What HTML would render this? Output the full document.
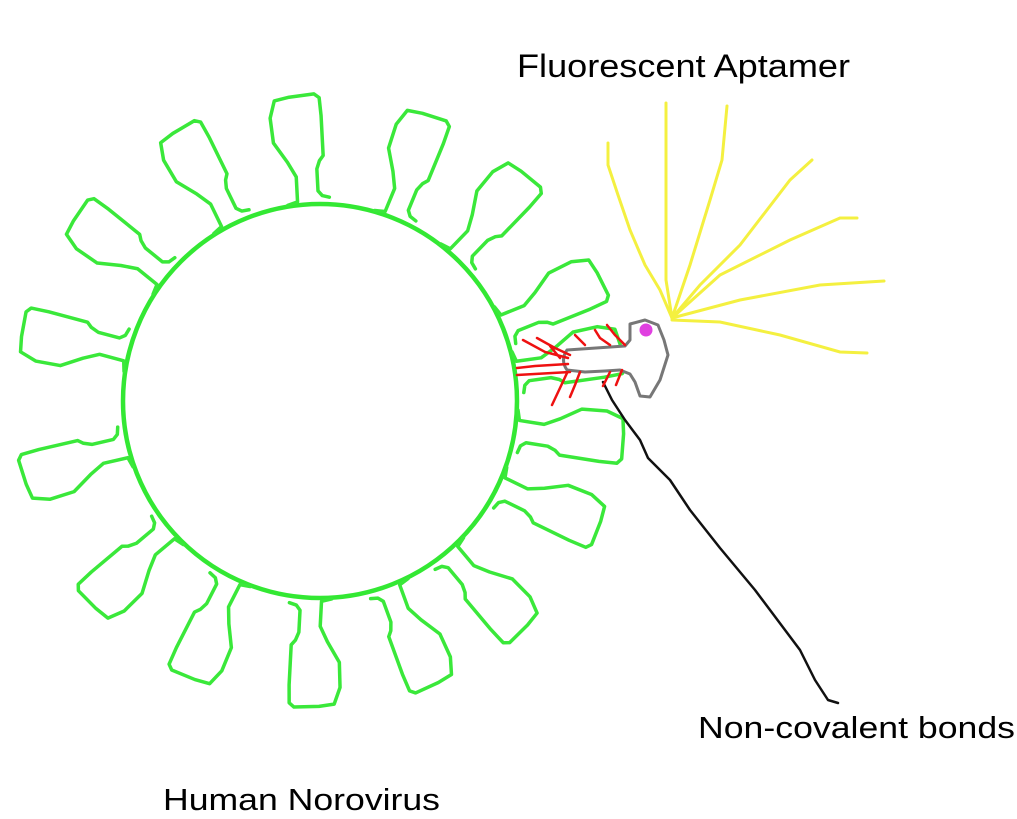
<!DOCTYPE html>
<html><head><meta charset="utf-8"><style>
html,body{margin:0;padding:0;background:#fff;}
svg{display:block;}
text{font-family:"Liberation Sans",Arial,sans-serif;fill:#000;}
</style></head><body>
<svg width="1017" height="819" viewBox="0 0 1017 819" xmlns="http://www.w3.org/2000/svg">
<defs>
<path id="sp" d="M-22,-197 L-12,-200 L-12,-225 L-20,-240 L-33,-260 L-35,-285 L-30,-302 L-15,-305 L10,-307 L15,-303 L16,-285 L16,-245 L12,-240 L9,-232 L9,-210 L13,-205 L20,-203" fill="none" stroke="#3ae83a" stroke-width="3.5" stroke-linejoin="round" stroke-linecap="round"/>
</defs>
<g transform="translate(320,401)">
<circle cx="0" cy="0" r="197" fill="none" stroke="#33e833" stroke-width="4.5"/>
<use href="#sp" transform="rotate(-3)"/>
<use href="#sp" transform="rotate(22.4)"/>
<use href="#sp" transform="rotate(44)"/>
<use href="#sp" transform="rotate(68)"/>
<use href="#sp" transform="rotate(82)"/>
<use href="#sp" transform="rotate(99)"/>
<use href="#sp" transform="rotate(116)"/>
<use href="#sp" transform="rotate(140)"/>
<use href="#sp" transform="rotate(160)"/>
<use href="#sp" transform="rotate(183)"/>
<use href="#sp" transform="rotate(207)"/>
<use href="#sp" transform="rotate(230)"/>
<use href="#sp" transform="rotate(257)"/>
<use href="#sp" transform="rotate(285)"/>
<use href="#sp" transform="rotate(309)"/>
<use href="#sp" transform="rotate(334)"/>
</g>
<!-- yellow rays -->
<g stroke="#f4f040" stroke-width="3" fill="none" stroke-linecap="round">
<path d="M672,318 L660,290 L645,265 L630,230 L618,195 L608,165 L608,143"/>
<path d="M672,318 L666,280 L666,103"/>
<path d="M672,318 L690,265 L710,200 L722,160 L727,106"/>
<path d="M672,318 L700,285 L740,245 L790,180 L812,160"/>
<path d="M672,318 L720,275 L790,240 L840,218 L857,218"/>
<path d="M672,318 L740,300 L820,285 L884,281"/>
<path d="M672,320 L720,322 L780,335 L840,352 L867,353"/>
</g>
<!-- black line -->
<path d="M603,382 L612,400 L625,420 L640,440 L648,458 L670,480 L690,510 L720,548 L755,590 L800,650 L815,680 L828,700 L838,703" fill="none" stroke="#111" stroke-width="2.5" stroke-linecap="round" stroke-linejoin="round"/>
<!-- gray aptamer -->
<path d="M567,350 L625,346 L630,340 L630,324 L645,320 L658,325 L664,340 L668,355 L660,380 L650,397 L640,396 L635,382 L630,374 L620,370 L605,371 L585,372 L567,370 Q560,360 567,350 Z" fill="#fff" stroke="#777" stroke-width="3" stroke-linejoin="round"/>
<circle cx="646" cy="330" r="6.5" fill="#e040e0"/>
<!-- red lines -->
<g stroke="#ee1111" stroke-width="2.5" fill="none" stroke-linecap="round">
<path d="M517,368 L535,366 L568,364"/>
<path d="M517,375 L570,372"/>
<path d="M523,340 L545,352 L568,358"/>
<path d="M537,338 L555,348 L570,355"/>
<path d="M550,346 L560,358"/>
<path d="M575,335 L585,345"/>
<path d="M595,330 L600,338 L610,345"/>
<path d="M607,325 L615,335 L625,345"/>
<path d="M567,373 L560,388 L552,405"/>
<path d="M580,372 L575,385 L570,397"/>
<path d="M610,372 L603,386"/>
<path d="M622,370 L616,385"/>
</g>
<text x="517" y="77" font-size="32" textLength="333" lengthAdjust="spacingAndGlyphs">Fluorescent Aptamer</text>
<text x="698" y="738" font-size="31" textLength="317" lengthAdjust="spacingAndGlyphs">Non-covalent bonds</text>
<text x="163" y="810" font-size="31" textLength="277" lengthAdjust="spacingAndGlyphs">Human Norovirus</text>
</svg>
</body></html>
